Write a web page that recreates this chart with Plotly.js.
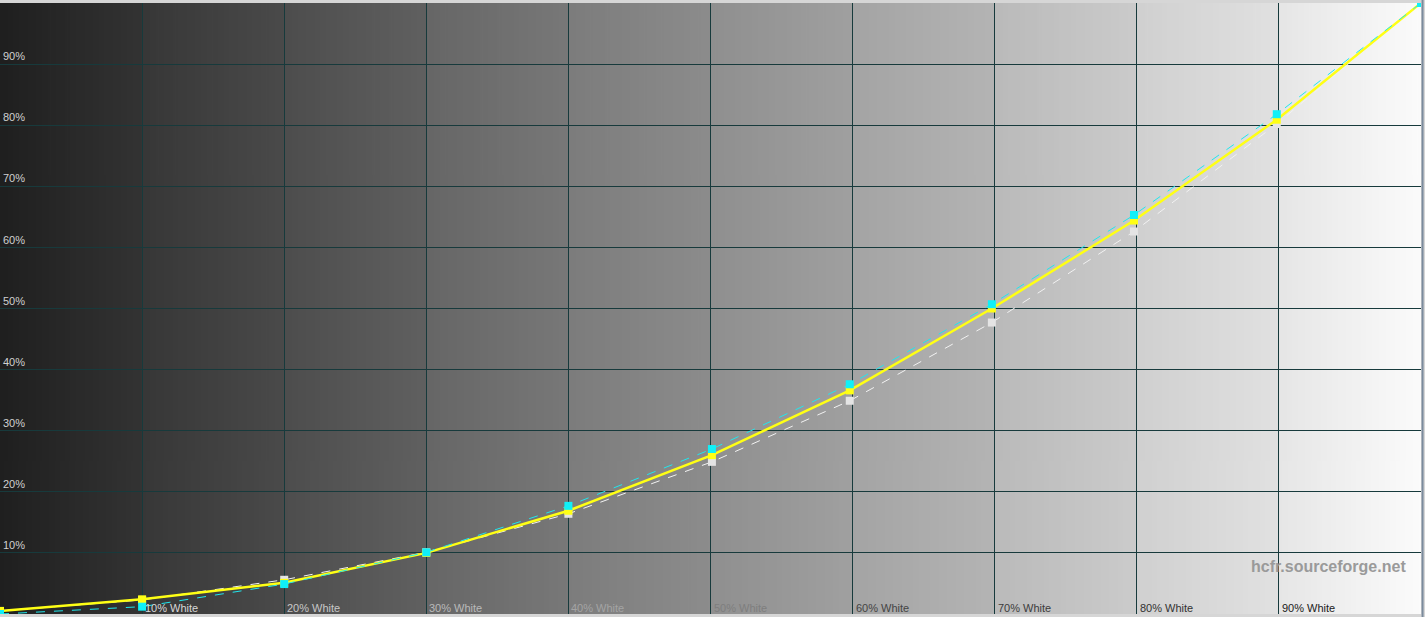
<!DOCTYPE html>
<html>
<head>
<meta charset="utf-8">
<script src="https://cdn.plot.ly/plotly-3.0.1.min.js"></script>
<style>
  html, body { margin: 0; padding: 0; background: #d6d6d6; }
  #plot { width: 1425px; height: 617px; }
</style>
</head>
<body>
<div id="plot"></div>
<script>
var stimulus = [0, 10, 20, 30, 40, 50.1, 59.8, 69.8, 79.8, 89.85, 100];
// reference curve (white dashed)
var reference = [0.5, 2.3, 5.6, 10.1, 16.4, 24.9, 34.9, 47.7, 62.6, 80.2, 100];
// luminance (yellow)
var luminance = [0.5, 2.4, 5.1, 10.0, 16.9, 26.0, 36.6, 50.0, 64.4, 80.9, 100];
// cyan series
var cyanSeries = [0.0, 1.2, 4.9, 10.1, 17.7, 27.0, 37.6, 50.7, 65.3, 81.8, 100];

var xTickVals = [10, 20, 30, 40, 50, 60, 70, 80, 90];
var xTickNames = ['10% White', '20% White', '30% White', '40% White', '50% White',
                  '60% White', '70% White', '80% White', '90% White'];
var yTickVals = [10, 20, 30, 40, 50, 60, 70, 80, 90];
var yTickNames = ['10%', '20%', '30%', '40%', '50%', '60%', '70%', '80%', '90%'];

// colours for the bottom labels (they sit on the grey ramp)
var xLabelColors = ['#d8d8d8', '#c8c8c8', '#bababa', '#a4a4a4', '#7e7e7e',
                    '#444444', '#3c3c3c', '#323232', '#202020'];

// grey ramp, one gradient per 10% band
var bandFrom = [0x1f, 0x37, 0x4d, 0x66, 0x7c, 0x8f, 0xa4, 0xba, 0xd0, 0xe6];
var bandTo   = [0x33, 0x4a, 0x60, 0x78, 0x8c, 0xa0, 0xb4, 0xcb, 0xe1, 0xfb];

function grey(v) {
  return 'rgb(' + v + ',' + v + ',' + v + ')';
}

function makeRamp() {
  var c = document.createElement('canvas');
  c.width = 1000; c.height = 2;
  var ctx = c.getContext('2d');
  for (var i = 0; i < bandFrom.length; i++) {
    var g = ctx.createLinearGradient(i * 100, 0, (i + 1) * 100, 0);
    g.addColorStop(0, grey(bandFrom[i]));
    g.addColorStop(1, grey(bandTo[i]));
    ctx.fillStyle = g;
    ctx.fillRect(i * 100, 0, 100, 2);
  }
  return c.toDataURL();
}

var traceRef = {
  x: stimulus, y: reference,
  type: 'scatter', mode: 'lines+markers',
  line: {color: '#f2f2f2', width: 1, dash: 'dash'},
  marker: {symbol: 'square', size: 8, color: '#e4e4e4'},
  hoverinfo: 'skip'
};
var traceLum = {
  x: stimulus, y: luminance,
  type: 'scatter', mode: 'lines+markers',
  line: {color: '#ffff14', width: 2.5},
  marker: {symbol: 'square', size: 8, color: '#ffff14'},
  hoverinfo: 'skip'
};
var traceCyan = {
  x: stimulus, y: cyanSeries,
  type: 'scatter', mode: 'lines+markers',
  line: {color: '#20e8ee', width: 1, dash: 'dash'},
  marker: {symbol: 'square', size: 8, color: '#10f0f8'},
  hoverinfo: 'skip'
};

// bottom labels sit inside the plot, right of each grid line
var notes = xTickVals.map(function(v, i) {
  return {
    text: xTickNames[i],
    xref: 'x', yref: 'paper', x: v, y: 0,
    xanchor: 'left', yanchor: 'bottom', xshift: 1, yshift: -2,
    showarrow: false,
    font: {size: 11, color: xLabelColors[i]}
  };
});
notes.push({
  text: '<b>hcfr.sourceforge.net</b>',
  xref: 'x', yref: 'y', x: 99.1, y: 7.7,
  xanchor: 'right', yanchor: 'middle', showarrow: false,
  font: {family: 'Liberation Sans, Arial, sans-serif', size: 16, color: '#9a9a9a'}
});

var layout = {
  width: 1425, height: 617,
  margin: {l: 0, r: 4, t: 3, b: 3},
  paper_bgcolor: '#d6d6d6',
  plot_bgcolor: '#808080',
  showlegend: false,
  font: {family: 'Liberation Sans, Arial, sans-serif', size: 11},
  xaxis: {
    range: [0, 100], fixedrange: true,
    tickvals: xTickVals, showticklabels: false,
    showgrid: true, gridcolor: '#173a3c', gridwidth: 1,
    zeroline: false, showline: false, ticks: ''
  },
  yaxis: {
    range: [0, 100], fixedrange: true,
    tickvals: yTickVals, ticktext: yTickNames,
    ticklabelposition: 'inside top',
    showgrid: true, gridcolor: '#173a3c', gridwidth: 1,
    zeroline: false, showline: false, ticks: '',
    tickfont: {size: 11, color: '#d0d0d0'}
  },
  images: [{
    source: makeRamp(),
    xref: 'x', yref: 'y', x: 0, y: 100, sizex: 100, sizey: 100,
    sizing: 'stretch', layer: 'below'
  }],
  shapes: [{
    type: 'rect', xref: 'paper', yref: 'paper',
    x0: 1.0004, x1: 1.0018, y0: -0.01, y1: 1.01,
    fillcolor: '#7b8b9d', line: {width: 0}
  }],
  annotations: notes
};

Plotly.newPlot('plot', [traceRef, traceLum, traceCyan], layout, {displayModeBar: false, staticPlot: true});
</script>
</body>
</html>
